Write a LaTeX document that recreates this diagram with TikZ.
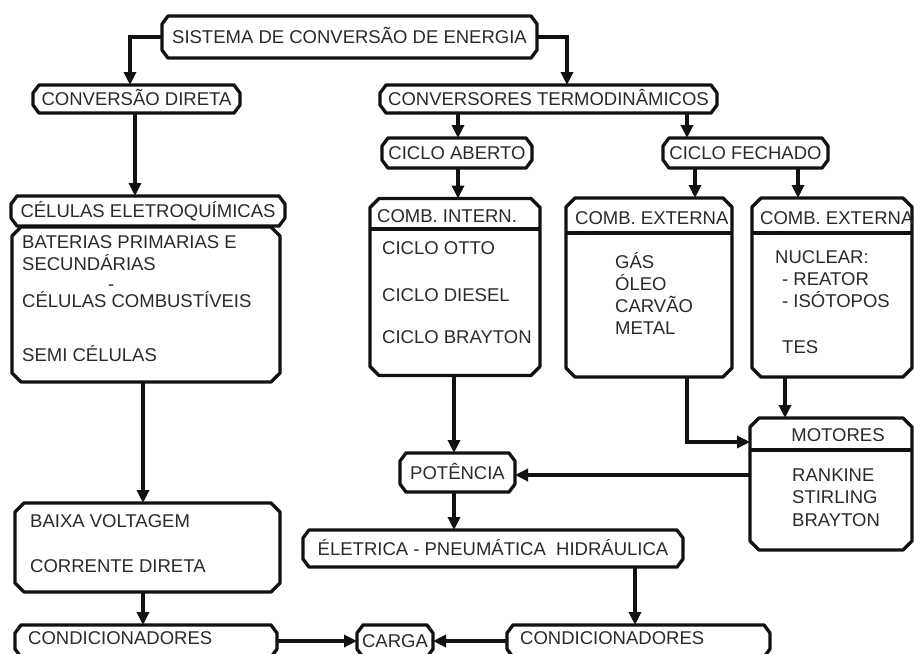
\documentclass[tikz,border=0pt]{standalone}
\usepackage{fontspec}
\setmainfont{Liberation Sans}
\usetikzlibrary{arrows.meta}
\definecolor{linec}{HTML}{111111}
\definecolor{txtc}{HTML}{2A2A2A}
\newcommand{\lbl}{\fontsize{18.5}{22}\selectfont}
\tikzset{
  chamf/.style n args={2}{draw=none, rectangle, inner sep=0pt, outer sep=0pt,
    append after command={\pgfextra{\draw[linec, line width=3.3pt, line join=round]
     ([xshift=#1]\tikzlastnode.north west) -- ([xshift=-#1]\tikzlastnode.north east)
     -- ([yshift=-#2]\tikzlastnode.north east) -- ([yshift=#2]\tikzlastnode.south east)
     -- ([xshift=-#1]\tikzlastnode.south east) -- ([xshift=#1]\tikzlastnode.south west)
     -- ([yshift=#2]\tikzlastnode.south west) -- ([yshift=-#2]\tikzlastnode.north west) -- cycle;}}},
  pill/.style={chamf={6pt}{8pt}, text height=13.2pt, text depth=0pt, font=\lbl, text=txtc},
  boxx/.style={chamf={9pt}{9pt}},
  txt/.style={inner sep=0pt, text height=13.2pt, text depth=0pt, anchor=west, font=\lbl, text=txtc},
  arr/.style={draw=linec, line width=3.3pt, -{Triangle[width=12pt,length=13pt]}},
  ln/.style={draw=linec, line width=3.3pt}
}
\begin{document}
\begin{tikzpicture}[x=1pt,y=-1pt]
\path[use as bounding box] (0,0) rectangle (914,654);
\clip (0,0) rectangle (914,654);
\fill[white] (0,0) rectangle (914,654);

% pills
\node[pill, minimum width=375pt, minimum height=42pt] (top) at (349.5,37) {SISTEMA DE CONVERSÃO DE ENERGIA};
\node[pill, minimum width=207pt, minimum height=28pt] (cd) at (136.5,99) {CONVERSÃO DIRETA};
\node[pill, minimum width=337pt, minimum height=28pt] (ct) at (548.5,99) {CONVERSORES TERMODINÂMICOS};
\node[pill, minimum width=150pt, minimum height=30pt] (ca) at (457,153) {CICLO ABERTO};
\node[pill, minimum width=165pt, minimum height=30pt] (cf) at (745.5,153) {CICLO FECHADO};
\node[pill, minimum width=274pt, minimum height=30pt] (cel) at (148,211) {CÉLULAS ELETROQUÍMICAS};
\node[pill, minimum width=115pt, minimum height=39pt] (pot) at (457.5,472.5) {POTÊNCIA};
\node[pill, minimum width=380pt, minimum height=37pt] (ele) at (493,548.5) {ÉLETRICA - PNEUMÁTICA\ \ HIDRÁULICA};
\node[pill, minimum width=262pt, minimum height=32pt] (cond1) at (146,641) {};
\node[pill, minimum width=76pt, minimum height=32pt] (carga) at (395,641) {CARGA};
\node[pill, minimum width=263pt, minimum height=32pt] (cond2) at (638.5,641) {};

% boxes
\node[boxx, minimum width=268pt, minimum height=155pt] (bat) at (146,304.5) {};
\node[boxx, minimum width=170pt, minimum height=177pt] (ci) at (455,287) {};
\node[boxx, minimum width=166pt, minimum height=179pt] (ce1) at (649,287.5) {};
\node[boxx, minimum width=160pt, minimum height=179pt] (ce2) at (832,287.5) {};
\node[boxx, minimum width=162pt, minimum height=132pt] (mot) at (831,484) {};
\node[boxx, minimum width=265pt, minimum height=89pt] (bv) at (147.5,547.5) {};

% dividers
\draw[ln] (ci.west |- 0,229) -- (ci.east |- 0,229);
\draw[ln] (ce1.west |- 0,233) -- (ce1.east |- 0,233);
\draw[ln] (ce2.west |- 0,233) -- (ce2.east |- 0,233);
\draw[ln] (mot.west |- 0,450) -- (mot.east |- 0,450);

% texts
\node[txt] (tc1) at (28,638) {CONDICIONADORES};
\node[txt] (tc2) at (520,638) {CONDICIONADORES};

\node[txt] (b1) at (22,241.5) {BATERIAS PRIMARIAS E};
\node[txt] (b2) at (22,264) {SECUNDÁRIAS};
\node[txt, text height=6pt, anchor=base west] (b3) at (108,290) {-};
\node[txt] (b4) at (22,301) {CÉLULAS COMBUSTÍVEIS};
\node[txt] (b5) at (22,354.5) {SEMI CÉLULAS};

\node[txt] (ih) at (377,216) {COMB. INTERN.};
\node[txt] (i1) at (382,247.5) {CICLO OTTO};
\node[txt] (i2) at (382,295) {CICLO DIESEL};
\node[txt] (i3) at (382,337) {CICLO BRAYTON};

\node[txt] (eh) at (575,218) {COMB. EXTERNA};
\node[txt] (e1) at (615,262) {GÁS};
\node[txt] (e2) at (615,284) {ÓLEO};
\node[txt] (e3) at (615,306) {CARVÃO};
\node[txt] (e4) at (615,328) {METAL};

\node[txt] (nh) at (760,218) {COMB. EXTERNA};
\node[txt] (n1) at (775,257) {NUCLEAR:};
\node[txt] (n2) at (782,279) {- REATOR};
\node[txt] (n3) at (782,301) {- ISÓTOPOS};
\node[txt] (n4) at (782,347) {TES};

\node[txt, anchor=center] (mh) at (838,435) {MOTORES};
\node[txt] (m1) at (792,474.5) {RANKINE};
\node[txt] (m2) at (792,497) {STIRLING};
\node[txt] (m3) at (792,519.5) {BRAYTON};

\node[txt] (v1) at (30,520.5) {BAIXA VOLTAGEM};
\node[txt] (v2) at (30,565.5) {CORRENTE DIRETA};

% connectors
\draw[arr] (top.west) -| (cd.north -| 130,0);
\draw[arr] (top.east) -| (ct.north -| 567,0);
\draw[arr] (ct.south -| 458,0) -- (ca.north -| 458,0);
\draw[arr] (ct.south -| 687,0) -- (cf.north -| 687,0);
\draw[arr] (ca.south -| 458,0) -- (ci.north -| 458,0);
\draw[arr] (cf.south -| 695,0) -- (ce1.north -| 695,0);
\draw[arr] (cf.south -| 798,0) -- (ce2.north -| 798,0);
\draw[arr] (cd.south -| 135,0) -- (cel.north -| 135,0);
\draw[arr] (bat.south -| 143,0) -- (bv.north -| 143,0);
\draw[arr] (bv.south -| 143,0) -- (cond1.north -| 143,0);
\draw[arr] (cond1.east) -- (carga.west);
\draw[arr] (cond2.west) -- (carga.east);
\draw[arr] (ele.south -| 635,0) -- (cond2.north -| 635,0);
\draw[arr] (pot.south -| 454,0) -- (ele.north -| 454,0);
\draw[arr] (ci.south -| 454,0) -- (pot.north -| 454,0);
\draw[arr] (ce1.south -| 687,0) |- (mot.west |- 0,442);
\draw[arr] (ce2.south -| 785,0) -- (mot.north -| 785,0);
\draw[arr] (mot.west |- 0,475) -- (pot.east |- 0,475);
\end{tikzpicture}
\end{document}
